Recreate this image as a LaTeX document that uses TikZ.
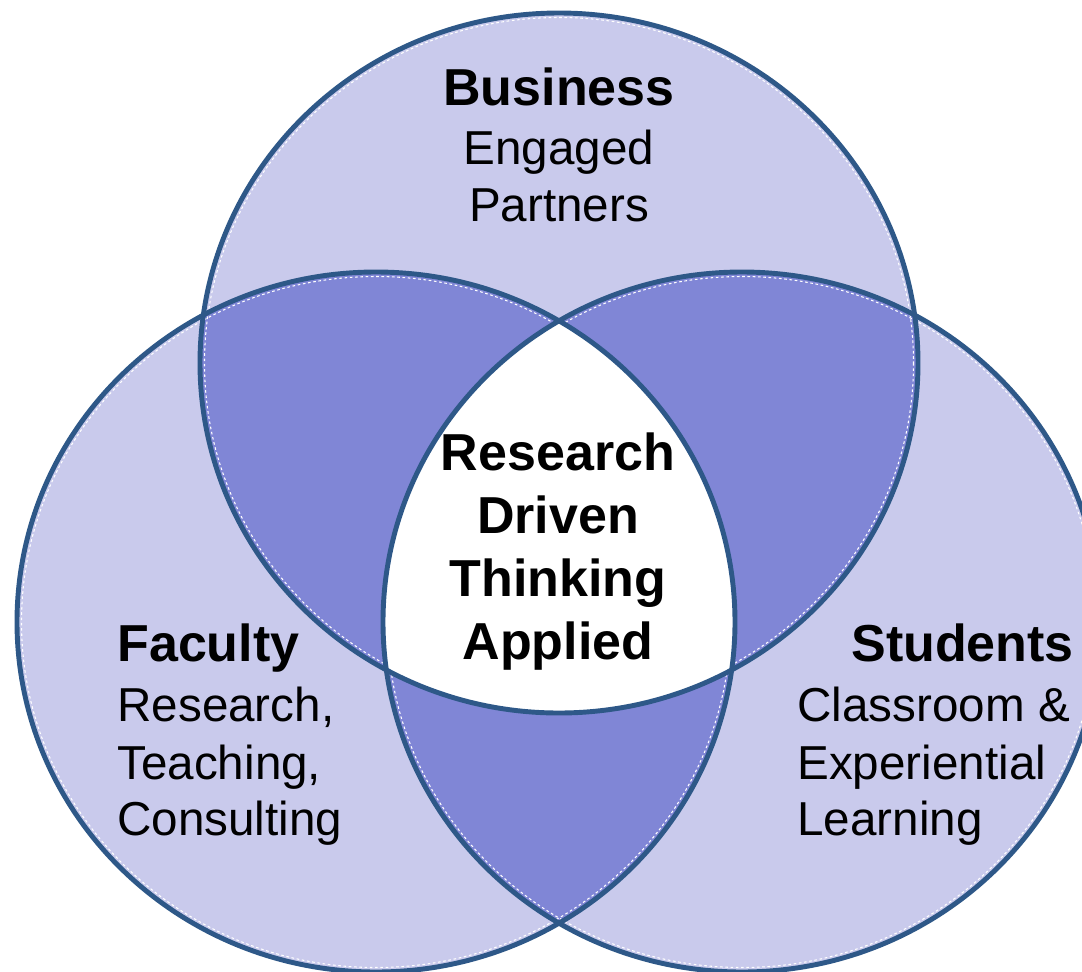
\documentclass[tikz,border=0pt]{standalone}
\usepackage{fontspec}
\setmainfont{Liberation Sans}
\definecolor{lightv}{RGB}{201,202,236}
\definecolor{darkv}{RGB}{128,134,214}
\definecolor{edgeb}{RGB}{46,88,136}
\tikzset{
  ring/.style={draw=edgeb, line width=2.8pt},
  innerdash/.style={draw=white, line width=0.6pt, dash pattern=on 1.5pt off 1.5pt},
  boldtxt/.style={inner sep=0pt, font=\fontsize{29.6pt}{35.8pt}\selectfont\bfseries},
  regtxt/.style={inner sep=0pt, font=\fontsize{27.1pt}{33pt}\selectfont},
}
\begin{document}
\begin{tikzpicture}[x=0.02cm, y=-0.02cm]
\useasboundingbox (0,0) rectangle (1082,971);
\fill[white] (0,0) rectangle (1082,971);
\clip (0,0) rectangle (1082,971);
\coordinate (T) at (559,363);
\coordinate (L) at (376,622);
\coordinate (R) at (742,622);
% base fills
\fill[lightv] (T) ellipse [x radius=359, y radius=350];
\fill[lightv] (L) ellipse [x radius=359, y radius=350];
\fill[lightv] (R) ellipse [x radius=359, y radius=350];
% pairwise overlaps
\begin{scope}
  \clip (T) ellipse [x radius=359, y radius=350];
  \fill[darkv] (L) ellipse [x radius=359, y radius=350];
  \fill[darkv] (R) ellipse [x radius=359, y radius=350];
\end{scope}
\begin{scope}
  \clip (L) ellipse [x radius=359, y radius=350];
  \fill[darkv] (R) ellipse [x radius=359, y radius=350];
\end{scope}
% triple overlap
\begin{scope}
  \clip (T) ellipse [x radius=359, y radius=350];
  \clip (L) ellipse [x radius=359, y radius=350];
  \fill[white] (R) ellipse [x radius=359, y radius=350];
\end{scope}
% thin white dashed inner lines
\draw[innerdash] (T) ellipse [x radius=354.5, y radius=345.5];
\draw[innerdash] (L) ellipse [x radius=354.5, y radius=345.5];
\draw[innerdash] (R) ellipse [x radius=354.5, y radius=345.5];
% outlines
\draw[ring] (T) ellipse [x radius=359, y radius=350];
\draw[ring] (L) ellipse [x radius=359, y radius=350];
\draw[ring] (R) ellipse [x radius=359, y radius=350];
% Business
\node[boldtxt, anchor=base] (business) at (559,105) {Business};
\node[regtxt, anchor=base] (engaged) at (559,164) {Engaged};
\node[regtxt, anchor=base] (partners) at (559,221) {Partners};
% Centre
\node[boldtxt, anchor=base] (research) at (558,470) {Research};
\node[boldtxt, anchor=base] (driven) at (558,533) {Driven};
\node[boldtxt, anchor=base] (thinking) at (558,596) {Thinking};
\node[boldtxt, anchor=base] (applied) at (558,659) {Applied};
% Faculty
\node[boldtxt, anchor=base west] (faculty) at (117,661) {Faculty};
\node[regtxt, anchor=base west] (fresearch) at (117,721) {Research,};
\node[regtxt, anchor=base west] (teaching) at (117,779) {Teaching,};
\node[regtxt, anchor=base west] (consulting) at (117,835) {Consulting};
% Students
\node[boldtxt, anchor=base west] (students) at (851,661) {Students};
\node[regtxt, anchor=base west] (classroom) at (797,721) {Classroom \&};
\node[regtxt, anchor=base west] (experiential) at (797,779) {Experiential};
\node[regtxt, anchor=base west] (learning) at (797,835) {Learning};
\end{tikzpicture}
\end{document}
